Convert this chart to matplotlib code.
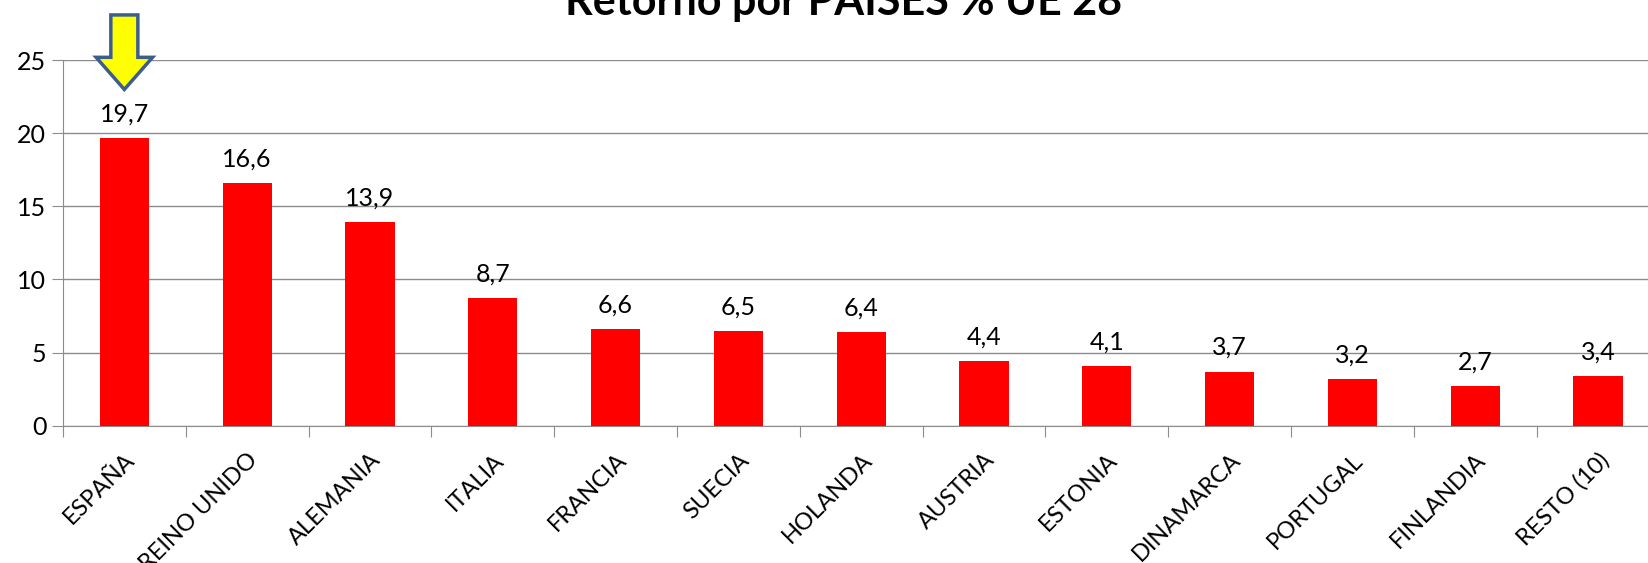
import matplotlib
matplotlib.use("Agg")
import matplotlib.pyplot as plt
from matplotlib.patches import FancyArrow
import numpy as np

plt.rcParams["font.family"] = ["Lato", "DejaVu Sans"]

paises = ["ESPAÑA", "REINO UNIDO", "ALEMANIA", "ITALIA", "FRANCIA", "SUECIA",
          "HOLANDA", "AUSTRIA", "ESTONIA", "DINAMARCA", "PORTUGAL", "FINLANDIA",
          "RESTO (10)"]
retorno = [19.7, 16.6, 13.9, 8.7, 6.6, 6.5, 6.4, 4.4, 4.1, 3.7, 3.2, 2.7, 3.4]

fig = plt.figure(figsize=(16.48, 5.63), dpi=100)
ax = fig.add_axes([0.0382, 0.244, 0.9687, 0.649])

x = np.arange(len(paises))
ax.bar(x, retorno, 0.4, color="#ff0000", zorder=3)
for xi, v in zip(x, retorno):
    ax.annotate(f"{v:.1f}".replace(".", ","), (xi, v), xytext=(0, 9),
                textcoords="offset points", ha="center", va="bottom", fontsize=18)

ax.set_xlim(-0.5, len(paises) - 0.5)
ax.set_ylim(0, 25)
ax.set_yticks(range(0, 26, 5))
ax.grid(axis="y", color="#8c8c8c", lw=1.0, zorder=0)
for s in ("top", "right"):
    ax.spines[s].set_visible(False)
for s in ("left", "bottom"):
    ax.spines[s].set_color("#8c8c8c")
ax.tick_params(axis="y", length=8, color="#8c8c8c", labelsize=18, pad=4)
ax.set_xticks(np.arange(len(paises) + 1) - 0.5)
ax.set_xticklabels([])
ax.tick_params(axis="x", which="major", length=8, color="#8c8c8c")
ax.set_xticks(x, minor=True)
ax.set_xticklabels(paises, minor=True, rotation=45, ha="right",
                   rotation_mode="anchor", fontsize=17)
ax.tick_params(axis="x", which="minor", length=0, pad=17)

# flecha amarilla sobre ESPAÑA
ax.add_patch(FancyArrow(0, 28.1, 0, -5.1, width=0.22, head_width=0.46,
                        head_length=2.2, length_includes_head=True,
                        fc="#ffff00", ec="#3b5e8c", lw=2.5, clip_on=False, zorder=5))

fig.text(0.512, 0.973, "Retorno por PAISES % UE 28", ha="center", va="baseline",
         fontsize=31, fontweight="bold")

fig.savefig("out.png", dpi=100)
